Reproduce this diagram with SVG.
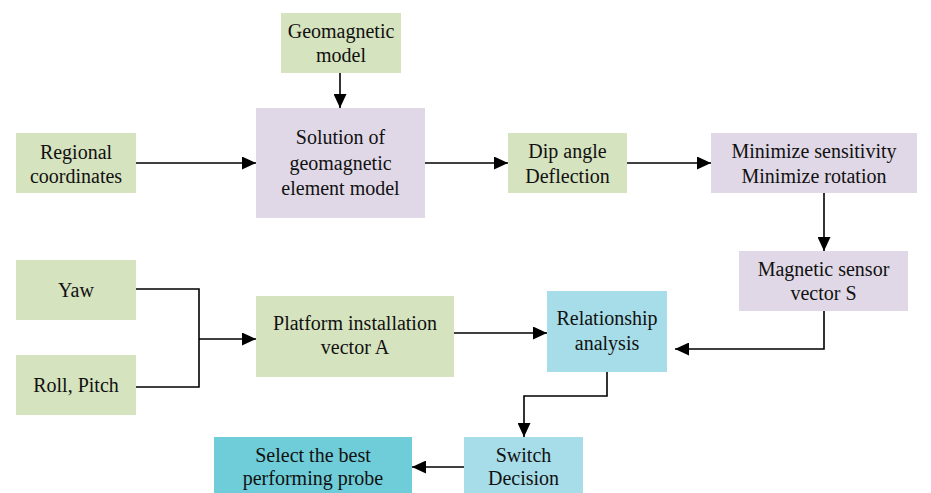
<svg xmlns="http://www.w3.org/2000/svg" width="931" height="493" viewBox="0 0 931 493">
<defs>
<marker id="ah" markerUnits="userSpaceOnUse" markerWidth="14" markerHeight="13" refX="14" refY="6.5" orient="auto">
<path d="M0,0 L14,6.5 L0,13 z" fill="#000"/>
</marker>
<style>
.l{font-family:'Liberation Serif','Times New Roman','DejaVu Serif',serif;font-size:20px;fill:#111;text-anchor:middle}
.g{fill:#d6e3bf}
.p{fill:#e0d8e6}
.b{fill:#a6dde8}
.t{fill:#6ecdd8}
.c{fill:none;stroke:#000;stroke-width:1.6}
</style>
</defs>
<rect width="931" height="493" fill="#fff"/>
<g id="geomagnetic-model"><rect class="g" x="281" y="13" width="120" height="60"/><text class="l" x="341" y="38">Geomagnetic</text><text class="l" x="341" y="62">model</text></g>
<g id="regional-coordinates"><rect class="g" x="16" y="133" width="120" height="60"/><text class="l" x="76" y="159">Regional</text><text class="l" x="76" y="183">coordinates</text></g>
<g id="solution"><rect class="p" x="256" y="108" width="169" height="110"/><text class="l" x="340.5" y="144">Solution of</text><text class="l" x="340.5" y="170">geomagnetic</text><text class="l" x="340.5" y="195">element model</text></g>
<g id="dip-angle"><rect class="g" x="508" y="133" width="119" height="60"/><text class="l" x="567.5" y="158">Dip angle</text><text class="l" x="567.5" y="183">Deflection</text></g>
<g id="minimize"><rect class="p" x="711" y="133" width="206" height="60"/><text class="l" x="814" y="158">Minimize sensitivity</text><text class="l" x="814" y="183">Minimize rotation</text></g>
<g id="magnetic-sensor"><rect class="p" x="739" y="251" width="169" height="60"/><text class="l" x="823.5" y="276">Magnetic sensor</text><text class="l" x="823.5" y="300">vector S</text></g>
<g id="yaw"><rect class="g" x="16" y="260" width="120" height="60"/><text class="l" x="76" y="297">Yaw</text></g>
<g id="roll-pitch"><rect class="g" x="16" y="355" width="120" height="60"/><text class="l" x="76" y="392">Roll, Pitch</text></g>
<g id="platform"><rect class="g" x="256" y="296" width="198" height="81"/><text class="l" x="355" y="330">Platform installation</text><text class="l" x="355" y="354">vector A</text></g>
<g id="relationship"><rect class="b" x="547" y="291" width="120" height="81"/><text class="l" x="607" y="325">Relationship</text><text class="l" x="607" y="350">analysis</text></g>
<g id="switch"><rect class="b" x="464" y="437" width="119" height="56"/><text class="l" x="523.5" y="462">Switch</text><text class="l" x="523.5" y="485">Decision</text></g>
<g id="select"><rect class="t" x="214" y="437" width="198" height="56"/><text class="l" x="313" y="462">Select the best</text><text class="l" x="313" y="485">performing probe</text></g>
<g id="connectors">
<path class="c" d="M340,73 V108" marker-end="url(#ah)"/>
<path class="c" d="M136,163 H256" marker-end="url(#ah)"/>
<path class="c" d="M425,163 H508" marker-end="url(#ah)"/>
<path class="c" d="M627,163 H711" marker-end="url(#ah)"/>
<path class="c" d="M824,193 V251" marker-end="url(#ah)"/>
<path class="c" d="M136,289 H199 V387 H136"/>
<path class="c" d="M199,339 H256" marker-end="url(#ah)"/>
<path class="c" d="M454,333 H547" marker-end="url(#ah)"/>
<path class="c" d="M824,311 V349 H675" marker-end="url(#ah)"/>
<path class="c" d="M607,372 V396 H524 V437" marker-end="url(#ah)"/>
<path class="c" d="M464,467 H412" marker-end="url(#ah)"/>
</g>
</svg>
